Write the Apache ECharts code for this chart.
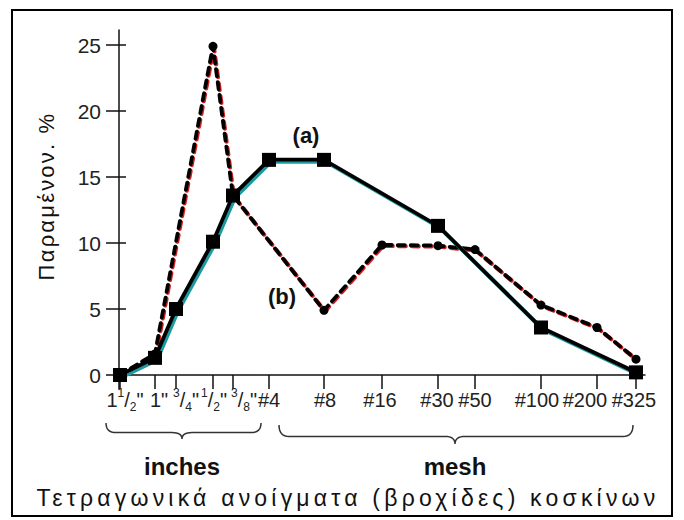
<!DOCTYPE html>
<html>
<head>
<meta charset="utf-8">
<script src="https://cdn.jsdelivr.net/npm/echarts@6/dist/echarts.min.js"></script>
<style>
html,body{margin:0;padding:0;background:#fff;}
#chart{width:684px;height:520px;}
svg text[style*="SpacedA"], svg text[font-family*="SpacedA"]{letter-spacing:2.2px;}
svg text[style*="SpacedB"], svg text[font-family*="SpacedB"]{letter-spacing:4.2px;}
</style>
</head>
<body>
<div id="chart"></div>
<script>
// Sieve positions along the horizontal scale (non-uniform axis units)
const sievePos = [0, 35, 56, 93, 113, 149, 204, 262, 318, 355, 421, 477, 516];
// Tick labels (rich text for fractions)
const tickLabels = [
  '{n|1}{sup|1}{n|/}{sub|2}{n|"}',
  '{n|1"}',
  '{sup|3}{n|/}{sub|4}{n|"}',
  '{sup|1}{n|/}{sub|2}{n|"}',
  '{sup|3}{n|/}{sub|8}{n|"}',
  '{n|#4}',
  '{n|#8}',
  '{n|#16}',
  '{n|#30}',
  '{n|#50}',
  '{n|#100}',
  '{n|#200}',
  '{n|#325}'
];
const yTicks = [0, 5, 10, 15, 20, 25];
// Series (a): solid line with squares
const seriesA = [0, 1.3, 5.0, 10.1, 13.6, 16.3, 16.3, null, 11.3, null, 3.6, null, 0.2];
// Series (b): dashed line with dots
const seriesB = [0, 1.6, null, 24.9, 13.6, null, 4.9, 9.85, 9.8, 9.5, 5.3, 3.6, 1.2];

const font = "'Liberation Sans', Arimo, Arial, sans-serif";
// layout: horizontal nudges of the crowded tick labels (px)
const labelNudge = [5, 4, 10, 1, 11, 0, 1, -2, -1, 0, -4, -12, -2];
const labelAt = sievePos.map((p, i) => p + labelNudge[i]);

function pairs(vals) {
  return vals.map((v, i) => [sievePos[i], v]);
}

// curly brace (decoration) as sampled polyline points
function quad(p0, p1, p2, n, out) {
  for (let k = 1; k <= n; k++) {
    const t = k / n, u = 1 - t;
    out.push([u * u * p0[0] + 2 * u * t * p1[0] + t * t * p2[0], u * u * p0[1] + 2 * u * t * p1[1] + t * t * p2[1]]);
  }
}
function brace(x1, x2, xm, y0, d) {
  const ym = y0 + d * 0.6;
  const pts = [[x1, y0]];
  quad([x1, y0], [x1, ym], [x1 + 10, ym], 8, pts);
  pts.push([xm - 10, ym]);
  quad([xm - 10, ym], [xm, ym], [xm, y0 + d], 8, pts);
  quad([xm, y0 + d], [xm, ym], [xm + 10, ym], 8, pts);
  pts.push([x2 - 10, ym]);
  quad([x2 - 10, ym], [x2, ym], [x2, y0], 8, pts);
  return pts;
}

const chart = echarts.init(document.getElementById('chart'), null, {renderer: 'svg'});
const option = {
  animation: false,
  backgroundColor: '#fff',
  grid: {left: 119, right: 39, top: 30, bottom: 131, containLabel: false},
  xAxis: [{
    type: 'value', min: -1, max: 525,
    axisLine: {show: true, onZero: true, lineStyle: {color: '#111', width: 1.5}},
    splitLine: {show: false},
    axisTick: {show: true, customValues: sievePos, length: 14, lineStyle: {color: '#111', width: 1.5}},
    axisLabel: {show: false}
  }, {
    type: 'value', min: -1, max: 525, position: 'bottom', offset: 0,
    splitLine: {show: false},
    axisLine: {show: false},
    axisTick: {show: false},
    axisLabel: {
      show: true, customValues: labelAt, margin: -2, showMinLabel: true, showMaxLabel: true,
      formatter: function (v) { const i = labelAt.indexOf(v); return i >= 0 ? tickLabels[i] : ''; },
      rich: {
        n: {fontSize: 20, fontFamily: font, color: '#222', lineHeight: 26},
        sup: {fontSize: 12, fontFamily: font, color: '#222', lineHeight: 18, verticalAlign: 'top'},
        sub: {fontSize: 12, fontFamily: font, color: '#222', lineHeight: 18, verticalAlign: 'bottom'}
      }
    }
  }],
  yAxis: [{
    type: 'value', min: -1.06, max: 26.14,
    splitLine: {show: false},
    axisLine: {show: true, onZero: false, lineStyle: {color: '#111', width: 1.5}},
    axisTick: {show: true, customValues: yTicks, length: 13, lineStyle: {color: '#111', width: 1.5}},
    axisLabel: {show: true, customValues: yTicks, margin: 18, fontSize: 21, fontFamily: font, color: '#222', showMinLabel: true, showMaxLabel: true}
  }, {
    type: 'value', min: -1.06, max: 26.14, position: 'left', offset: 0,
    splitLine: {show: false},
    axisLine: {show: false, onZero: false},
    axisTick: {show: true, inside: true, customValues: yTicks, length: 7, lineStyle: {color: '#111', width: 1.5}},
    axisLabel: {show: false}
  }],
  series: [{
    name: '(b)', type: 'line', data: pairs(seriesB), connectNulls: true, z: 2,
    symbol: 'circle', symbolSize: 9,
    itemStyle: {color: '#000'},
    lineStyle: {color: '#000', width: 4, type: [7, 6], cap: 'round',
      shadowColor: '#d42020', shadowOffsetX: 1, shadowOffsetY: 1, shadowBlur: 0}
  }, {
    name: '(a)', type: 'line', data: pairs(seriesA), connectNulls: true, z: 3,
    symbol: 'rect', symbolSize: 14,
    itemStyle: {color: '#000'},
    lineStyle: {color: '#000', width: 4,
      shadowColor: '#1a9aa0', shadowOffsetX: 2, shadowOffsetY: 2, shadowBlur: 0}
  }],
  graphic: [
    {type: 'rect', shape: {x: 12, y: 10, width: 660, height: 506}, style: {fill: 'none', stroke: '#000', lineWidth: 2}, silent: true},
    {type: 'text', x: 46, y: 196, rotation: Math.PI / 2,
      style: {text: 'Παραμένον. %', font: "22px 'Liberation Sans', SpacedA, sans-serif", fill: '#111', textAlign: 'center', textVerticalAlign: 'middle'}},
    {type: 'text', x: 348, y: 498,
      style: {text: 'Τετραγωνικά ανοίγματα (βροχίδες) κοσκίνων', font: "23px 'Liberation Sans', SpacedB, sans-serif", fill: '#111', textAlign: 'center', textVerticalAlign: 'middle'}},
    {type: 'text', x: 182, y: 466,
      style: {text: 'inches', font: "bold 24px 'Liberation Sans', sans-serif", fill: '#111', textAlign: 'center', textVerticalAlign: 'middle'}},
    {type: 'text', x: 455, y: 466,
      style: {text: 'mesh', font: "bold 24px 'Liberation Sans', sans-serif", fill: '#111', textAlign: 'center', textVerticalAlign: 'middle'}},
    {type: 'text', x: 306, y: 135,
      style: {text: '(a)', font: "bold 22px 'Liberation Sans', sans-serif", fill: '#111', textAlign: 'center', textVerticalAlign: 'middle'}},
    {type: 'text', x: 282, y: 296,
      style: {text: '(b)', font: "bold 22px 'Liberation Sans', sans-serif", fill: '#111', textAlign: 'center', textVerticalAlign: 'middle'}},
    {type: 'polyline', shape: {points: brace(106, 261, 182, 423, 16)}, style: {fill: 'none', stroke: '#333', lineWidth: 1.5}},
    {type: 'polyline', shape: {points: brace(279, 633, 455, 425, 19)}, style: {fill: 'none', stroke: '#333', lineWidth: 1.5}}
  ]
};
chart.setOption(option);
</script>
</body>
</html>
